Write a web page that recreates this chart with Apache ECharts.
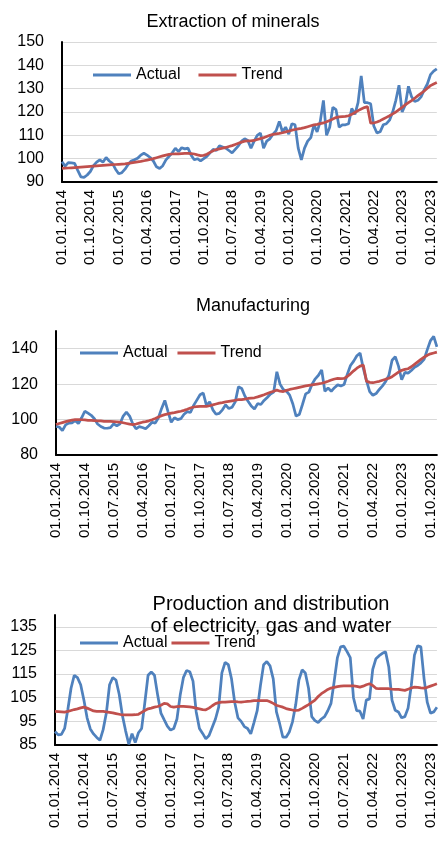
<!DOCTYPE html>
<html><head><meta charset="utf-8">
<script src="https://cdn.jsdelivr.net/npm/echarts@6/dist/echarts.min.js"></script>
<style>html,body{margin:0;padding:0;background:#fff}#c{width:438px;height:841px}</style>
</head><body><div id="c"></div>
<script>
// Categories: monthly, 01.01.2014 .. 01.12.2023
const startYear = 2014, monthCount = 120;
const months = [];
for (let k = 0; k < monthCount; k++) {
  const y = startYear + Math.floor(k / 12), m = k % 12 + 1;
  months.push('01.' + (m < 10 ? '0' : '') + m + '.' + y);
}
const seriesNames = ['Actual', 'Trend'];
const panelTitles = ['Extraction of minerals', 'Manufacturing', 'Production and distribution\nof electricity, gas and water'];

const extractionActual = [
 98.7, 96.8, 98.3, 98.2, 98.0, 95.0, 92.2, 92.0, 93.0, 94.5,
 97.0, 98.5, 99.5, 98.5, 100.5, 99.0, 98.0, 95.5, 93.5, 94.0,
 95.5, 97.5, 99.0, 99.5, 100.2, 101.5, 102.3, 101.5, 100.5, 99.0,
 96.5, 95.8, 97.0, 99.5, 101.0, 102.5, 104.5, 103.0, 104.7, 104.2,
 104.5, 101.5, 99.5, 100.0, 99.0, 100.0, 101.0, 102.5, 104.0, 103.5,
 105.5, 105.0, 104.5, 103.5, 102.5, 104.0, 105.5, 107.5, 108.5, 107.8,
 104.5, 107.5, 110.0, 111.0, 104.5, 107.5, 108.5, 110.5, 112.0, 116.0,
 111.5, 113.5, 110.5, 115.0, 114.5, 104.5, 99.5, 104.5, 107.5, 109.0,
 114.5, 111.5, 116.0, 125.0, 110.0, 113.5, 122.0, 121.0, 113.5, 114.5,
 114.5, 115.0, 121.5, 119.0, 124.0, 135.5, 124.0, 124.0, 123.5, 114.0,
 111.0, 111.5, 114.5, 115.0, 116.5, 120.0, 125.0, 131.5, 120.0, 123.0,
 131.0, 126.5, 124.5, 125.0, 126.5, 129.5, 132.0, 136.0, 137.5, 138.5
];
const extractionTrend = [
 95.8, 95.9, 96.0, 96.1, 96.2, 96.3, 96.4, 96.5, 96.6, 96.7,
 96.8, 96.9, 97.0, 97.1, 97.2, 97.3, 97.4, 97.5, 97.6, 97.7,
 97.8, 98.0, 98.2, 98.4, 98.6, 98.8, 99.1, 99.4, 99.7, 100.0,
 100.4, 100.8, 101.2, 101.5, 101.8, 102.0, 102.1, 102.1, 102.2, 102.3,
 102.3, 102.2, 102.0, 101.6, 101.3, 101.4, 101.9, 102.7, 103.4, 103.9,
 104.2, 104.5, 104.8, 105.2, 105.6, 106.1, 106.6, 107.1, 107.5, 107.6,
 107.6, 107.8, 108.2, 108.6, 109.0, 109.5, 110.0, 110.4, 110.6, 110.8,
 111.1, 111.5, 111.8, 112.2, 112.5, 112.8, 113.0, 113.3, 113.7, 114.1,
 114.5, 114.7, 115.0, 115.3, 115.8, 116.4, 117.0, 117.6, 117.9, 118.0,
 118.1, 118.4, 119.0, 119.8, 120.6, 121.3, 121.9, 122.3, 115.2, 115.3,
 115.7, 116.3, 117.0, 117.7, 118.4, 119.2, 120.0, 121.0, 122.0, 123.1,
 124.0, 124.9, 125.9, 127.0, 128.0, 129.0, 130.2, 131.3, 132.0, 132.6
];
const manufacturingActual = [
 96.2, 95.8, 93.8, 97.0, 98.0, 98.2, 99.4, 97.8, 101.0, 104.7,
 103.6, 102.4, 100.5, 97.5, 96.1, 95.2, 95.1, 95.5, 97.6, 96.5,
 97.6, 102.0, 104.2, 102.0, 97.5, 94.8, 96.0, 95.5, 94.8, 96.5,
 98.5, 98.0, 101.0, 106.3, 110.8, 104.5, 98.5, 101.0, 100.0, 100.5,
 103.0, 104.5, 104.0, 108.0, 111.0, 114.0, 115.0, 108.0, 110.0, 105.5,
 103.0, 103.5, 105.5, 108.3, 106.2, 107.0, 110.0, 118.5, 117.6, 113.3,
 110.4, 107.7, 106.0, 109.0, 108.5, 110.8, 112.5, 114.4, 115.5, 127.0,
 120.0, 117.0, 116.0, 113.8, 108.8, 102.0, 102.8, 108.5, 114.5, 115.5,
 120.0, 123.0, 125.0, 128.0, 116.0, 117.8, 116.0, 118.0, 119.6, 119.0,
 119.8, 125.5, 130.5, 133.0, 136.0, 137.5, 129.0, 122.0, 115.8, 113.7,
 114.7, 117.0, 119.0, 121.5, 125.0, 133.5, 135.5, 130.2, 122.5, 126.6,
 126.2, 127.7, 129.5, 130.5, 132.0, 134.0, 139.5, 144.6, 147.0, 141.1
];
const manufacturingTrend = [
 97.2, 97.8, 98.3, 98.8, 99.3, 99.7, 100.0, 100.0, 99.9, 99.8,
 99.6, 99.5, 99.4, 99.3, 99.2, 99.0, 99.0, 99.0, 98.9, 98.7,
 98.5, 98.2, 97.8, 97.4, 97.2, 97.5, 98.0, 98.5, 98.8, 99.3,
 99.9, 100.6, 101.4, 102.2, 102.8, 103.2, 103.6, 103.9, 104.3, 104.7,
 105.2, 105.8, 106.5, 107.1, 107.3, 107.4, 107.5, 107.5, 107.8, 108.3,
 108.8, 109.3, 109.6, 110.0, 110.3, 110.6, 110.9, 111.2, 111.3, 111.6,
 111.9, 112.1, 112.3, 112.8, 113.4, 114.0, 114.7, 115.4, 116.0, 116.6,
 116.0, 115.8, 116.5, 117.0, 117.4, 117.8, 118.2, 118.6, 119.0, 119.3,
 119.6, 119.9, 120.2, 120.5, 121.0, 121.6, 122.3, 122.9, 123.2, 123.1,
 123.2, 124.3, 125.8, 127.5, 129.0, 130.2, 130.8, 121.7, 121.0, 120.8,
 121.2, 121.6, 122.2, 122.8, 123.3, 124.2, 125.5, 126.8, 127.8, 128.3,
 128.7, 129.8, 131.2, 132.6, 134.0, 135.2, 136.3, 137.1, 137.6, 138.1
];
const electricityActual = [
 90.7, 89.3, 89.5, 92.0, 100.0, 109.0, 114.5, 113.5, 110.5, 104.0,
 96.5, 91.8, 89.7, 88.2, 87.0, 91.5, 98.5, 110.5, 113.5, 112.5,
 106.5, 97.5, 91.0, 85.3, 89.8, 86.0, 90.2, 92.0, 103.0, 114.5,
 115.9, 114.5, 106.0, 98.5, 95.7, 93.0, 91.3, 92.0, 96.0, 106.0,
 113.5, 116.5, 116.0, 112.0, 99.0, 92.0, 89.9, 87.6, 89.0, 92.5,
 96.0, 101.0, 115.5, 120.0, 119.0, 113.0, 103.0, 96.5, 95.0, 92.8,
 92.0, 89.7, 94.5, 99.5, 110.0, 119.0, 120.3, 118.5, 113.0, 99.0,
 94.0, 88.3, 88.3, 90.5, 94.8, 102.0, 112.5, 116.8, 115.5, 109.0,
 97.0, 95.3, 94.5, 96.0, 97.0, 99.5, 102.6, 112.0, 122.0, 126.5,
 126.8, 124.5, 122.0, 105.0, 99.5, 99.3, 96.0, 104.0, 104.5, 117.0,
 121.5, 122.8, 123.8, 124.4, 118.0, 104.0, 99.7, 99.0, 96.5, 97.0,
 100.5, 110.0, 123.0, 127.0, 126.5, 113.0, 103.0, 98.5, 99.0, 101.0
];
const electricityTrend = [
 99.2, 99.1, 99.0, 98.9, 99.2, 99.6, 100.0, 100.3, 100.7, 101.0,
 100.6, 100.0, 99.4, 99.2, 99.2, 99.2, 99.0, 98.8, 98.6, 98.3,
 98.0, 97.7, 97.7, 97.7, 97.7, 97.8, 98.0, 98.8, 99.6, 100.3,
 100.6, 101.0, 101.3, 101.8, 102.6, 102.4, 101.3, 101.0, 101.2, 101.3,
 101.3, 101.2, 101.1, 100.9, 100.6, 100.3, 100.0, 99.9, 100.6, 101.6,
 102.5, 102.9, 103.1, 103.1, 103.2, 103.3, 103.4, 103.2, 103.1, 103.3,
 103.5, 103.6, 103.8, 103.8, 103.8, 103.8, 103.8, 103.3, 102.6, 101.8,
 101.4, 101.0, 100.4, 100.1, 99.8, 99.6, 99.8, 100.5, 101.3, 102.1,
 103.0, 104.0, 105.5, 106.7, 107.6, 108.5, 109.1, 109.4, 109.7, 109.9,
 110.0, 110.0, 110.0, 110.0, 109.8, 109.5, 109.9, 110.5, 110.9, 110.2,
 109.0, 108.8, 108.8, 108.8, 108.8, 108.6, 108.5, 108.5, 108.3, 108.1,
 108.6, 109.1, 109.5, 109.4, 109.2, 109.1, 109.4, 109.9, 110.4, 110.9
];

const FONT = 'Liberation Sans';
const BLUE = '#4F81BD', RED = '#C0504D';
const grids = [
  {left: 62, top: 42, width: 376, height: 140},
  {left: 56, top: 331, width: 381, height: 124},
  {left: 55, top: 615, width: 382, height: 130}
];
const yRanges = [
  {min: 90, max: 150, interval: 10, hideMax: false},
  {min: 80, max: 150, interval: 20, hideMax: true},
  {min: 85, max: 140, interval: 10, hideMax: true}
];
const data = [
  [extractionActual, extractionTrend],
  [manufacturingActual, manufacturingTrend],
  [electricityActual, electricityTrend]
];

const titleStyle = {fontFamily: FONT, fontSize: 18, fontWeight: 'normal', color: '#000'};
const option = {
  animation: false,
  backgroundColor: '#fff',
  textStyle: {fontFamily: FONT},
  title: [
    {text: panelTitles[0], left: 228, top: 8, textAlign: 'center', textStyle: titleStyle},
    {text: panelTitles[1], left: 248, top: 292, textAlign: 'center', textStyle: titleStyle},
    {text: panelTitles[2], left: 266, top: 588, textAlign: 'center',
     textStyle: Object.assign({}, titleStyle, {fontSize: 20, lineHeight: 22})}
  ],
  legend: [
    {left: 88, top: 62, itemGap: 18},
    {left: 75, top: 340, itemGap: 10},
    {left: 75, top: 630, itemGap: 4}
  ].map(l => Object.assign({
    data: seriesNames, icon: 'rect', itemWidth: 38, itemHeight: 3, selectedMode: false,
    textStyle: {fontFamily: FONT, fontSize: 16, color: '#000'}
  }, l)),
  grid: grids,
  xAxis: grids.map((g, i) => ({
    type: 'category', gridIndex: i, data: months, boundaryGap: false,
    axisLine: {lineStyle: {color: '#000', width: 2}},
    axisTick: {show: false},
    axisLabel: {interval: 8, rotate: 90, fontFamily: FONT, fontSize: 15, color: '#000', margin: 8},
    splitLine: {show: false}
  })),
  yAxis: yRanges.map((r, i) => ({
    type: 'value', gridIndex: i, min: r.min, max: r.max, interval: r.interval,
    axisLine: {show: true, lineStyle: {color: '#000', width: 2}},
    axisTick: {show: false},
    axisLabel: {fontFamily: FONT, fontSize: 16, color: '#000', margin: 18, showMaxLabel: !r.hideMax},
    splitLine: {show: true, showMaxLine: !r.hideMax, lineStyle: {color: '#D9D9D9', width: 1}}
  })),
  series: []
};
data.forEach((pair, i) => {
  option.series.push({
    name: seriesNames[0], type: 'line', xAxisIndex: i, yAxisIndex: i, data: pair[0],
    symbol: 'none', color: BLUE, lineStyle: {color: BLUE, width: 2.75}, z: 2
  });
  option.series.push({
    name: seriesNames[1], type: 'line', xAxisIndex: i, yAxisIndex: i, data: pair[1],
    symbol: 'none', color: RED, lineStyle: {color: RED, width: 2.75}, z: 3
  });
});
const chart = echarts.init(document.getElementById('c'), null, {renderer: 'canvas'});
chart.setOption(option);
</script></body></html>
